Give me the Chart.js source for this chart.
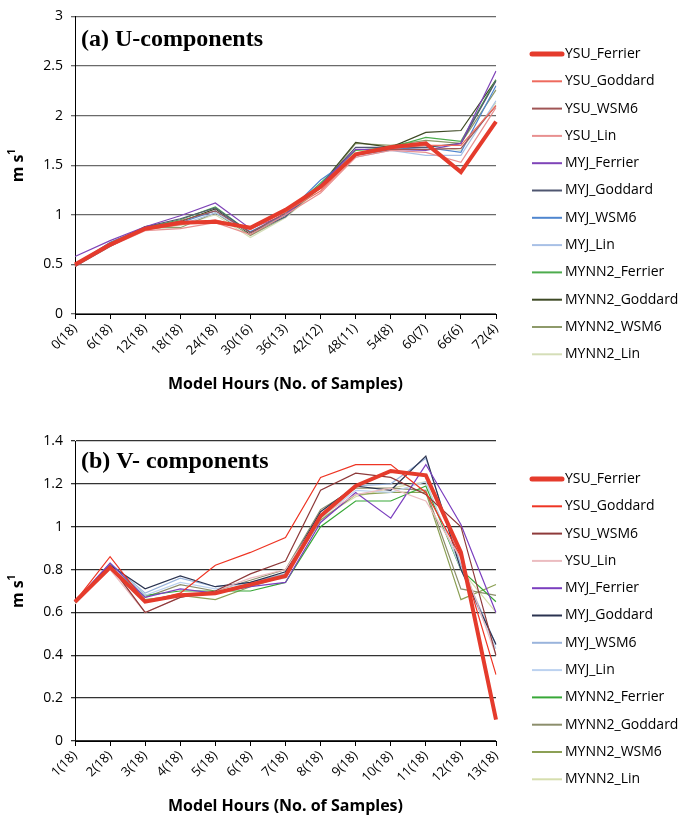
<!DOCTYPE html>
<html>
<head>
<meta charset="utf-8">
<script src="https://cdn.jsdelivr.net/npm/chart.js@4.4.1/dist/chart.umd.min.js"></script>
<style>
  body { margin: 0; background: #fff; }
  .box { position: relative; width: 686px; height: 413px; }
</style>
</head>
<body>
<div class="box"><canvas id="uChart" width="686" height="413"></canvas></div>
<div class="box"><canvas id="vChart" width="686" height="413"></canvas></div>
<script>
// categories
var uLabels = ['0(18)', '6(18)', '12(18)', '18(18)', '24(18)', '30(16)', '36(13)', '42(12)', '48(11)', '54(8)', '60(7)', '66(6)', '72(4)'];
var vLabels = ['1(18)', '2(18)', '3(18)', '4(18)', '5(18)', '6(18)', '7(18)', '8(18)', '9(18)', '10(18)', '11(18)', '12(18)', '13(18)'];
var seriesNames = ['YSU_Ferrier', 'YSU_Goddard', 'YSU_WSM6', 'YSU_Lin', 'MYJ_Ferrier', 'MYJ_Goddard', 'MYJ_WSM6', 'MYJ_Lin', 'MYNN2_Ferrier', 'MYNN2_Goddard', 'MYNN2_WSM6', 'MYNN2_Lin'];

// (a) U-components
var uYSU_Ferrier   = [0.50, 0.70, 0.86, 0.92, 0.93, 0.87, 1.05, 1.28, 1.61, 1.68, 1.72, 1.43, 1.94];
var uYSU_Goddard   = [0.49, 0.70, 0.85, 0.90, 0.95, 0.85, 1.03, 1.24, 1.60, 1.67, 1.70, 1.70, 2.10];
var uYSU_WSM6      = [0.48, 0.68, 0.86, 0.94, 1.04, 0.82, 1.02, 1.27, 1.60, 1.66, 1.66, 1.67, 2.10];
var uYSU_Lin       = [0.48, 0.68, 0.84, 0.86, 0.92, 0.80, 1.00, 1.22, 1.58, 1.65, 1.63, 1.53, 2.08];
var uMYJ_Ferrier   = [0.58, 0.74, 0.88, 0.99, 1.12, 0.86, 1.00, 1.30, 1.66, 1.66, 1.65, 1.72, 2.45];
var uMYJ_Goddard   = [0.48, 0.70, 0.88, 0.96, 1.07, 0.82, 0.98, 1.30, 1.68, 1.68, 1.68, 1.72, 2.35];
var uMYJ_WSM6      = [0.50, 0.72, 0.87, 0.92, 1.04, 0.83, 1.00, 1.35, 1.60, 1.66, 1.68, 1.63, 2.30];
var uMYJ_Lin       = [0.50, 0.70, 0.86, 0.90, 1.02, 0.82, 0.98, 1.30, 1.58, 1.65, 1.60, 1.60, 2.15];
var uMYNN2_Ferrier = [0.49, 0.72, 0.87, 0.95, 1.08, 0.82, 1.00, 1.32, 1.65, 1.68, 1.78, 1.74, 2.36];
var uMYNN2_Goddard = [0.48, 0.70, 0.88, 0.93, 1.06, 0.80, 1.00, 1.30, 1.73, 1.68, 1.83, 1.85, 2.36];
var uMYNN2_WSM6    = [0.49, 0.70, 0.87, 0.87, 1.02, 0.79, 0.98, 1.28, 1.72, 1.70, 1.75, 1.72, 2.26];
var uMYNN2_Lin     = [0.49, 0.70, 0.85, 0.89, 1.00, 0.77, 0.97, 1.27, 1.65, 1.66, 1.70, 1.65, 2.13];

// (b) V-components
var vYSU_Ferrier   = [0.65, 0.81, 0.65, 0.68, 0.69, 0.73, 0.77, 1.05, 1.19, 1.26, 1.24, 0.88, 0.10];
var vYSU_Goddard   = [0.65, 0.86, 0.65, 0.69, 0.82, 0.88, 0.95, 1.23, 1.29, 1.29, 1.16, 0.86, 0.31];
var vYSU_WSM6      = [0.65, 0.82, 0.60, 0.67, 0.70, 0.78, 0.84, 1.17, 1.25, 1.23, 1.15, 1.00, 0.40];
var vYSU_Lin       = [0.64, 0.80, 0.60, 0.67, 0.70, 0.76, 0.80, 1.05, 1.15, 1.18, 1.12, 0.85, 0.40];
var vMYJ_Ferrier   = [0.65, 0.83, 0.67, 0.71, 0.69, 0.72, 0.74, 1.02, 1.16, 1.04, 1.29, 1.01, 0.60];
var vMYJ_Goddard   = [0.65, 0.82, 0.71, 0.77, 0.72, 0.74, 0.79, 1.07, 1.19, 1.17, 1.33, 0.80, 0.45];
var vMYJ_WSM6      = [0.65, 0.83, 0.69, 0.76, 0.72, 0.74, 0.78, 1.05, 1.19, 1.20, 1.32, 0.82, 0.45];
var vMYJ_Lin       = [0.65, 0.82, 0.68, 0.74, 0.71, 0.74, 0.76, 1.04, 1.17, 1.16, 1.21, 0.80, 0.43];
var vMYNN2_Ferrier = [0.65, 0.82, 0.68, 0.70, 0.70, 0.70, 0.74, 1.00, 1.12, 1.12, 1.19, 0.80, 0.65];
var vMYNN2_Goddard = [0.65, 0.82, 0.67, 0.73, 0.70, 0.75, 0.80, 1.08, 1.18, 1.18, 1.17, 0.71, 0.68];
var vMYNN2_WSM6    = [0.65, 0.82, 0.66, 0.68, 0.66, 0.72, 0.77, 1.03, 1.15, 1.16, 1.16, 0.66, 0.73];
var vMYNN2_Lin     = [0.64, 0.81, 0.66, 0.68, 0.69, 0.74, 0.78, 1.04, 1.14, 1.18, 1.21, 0.80, 0.60];

var uColors = ['#e53b2c', '#ee6a5e', '#a05555', '#e89090', '#7f44b8', '#4f5670', '#4f86cf', '#a8c0e6', '#4dac4d', '#3e4a25', '#8e9a6a', '#d5deb8'];
var vColors = ['#e53b2c', '#ee3524', '#8e3a3a', '#ebbcc0', '#7b3fbf', '#2a3350', '#9ab4dc', '#bcd2f0', '#38a838', '#8c8e6c', '#8ca055', '#d6deae'];

var uValues = [uYSU_Ferrier, uYSU_Goddard, uYSU_WSM6, uYSU_Lin, uMYJ_Ferrier, uMYJ_Goddard, uMYJ_WSM6, uMYJ_Lin, uMYNN2_Ferrier, uMYNN2_Goddard, uMYNN2_WSM6, uMYNN2_Lin];
var vValues = [vYSU_Ferrier, vYSU_Goddard, vYSU_WSM6, vYSU_Lin, vMYJ_Ferrier, vMYJ_Goddard, vMYJ_WSM6, vMYJ_Lin, vMYNN2_Ferrier, vMYNN2_Goddard, vMYNN2_WSM6, vMYNN2_Lin];

var sansFont = '"Open Sans", sans-serif';

function makeDatasets(values, colors) {
    // draw the thick YSU_Ferrier line last so it sits on top
    return values.map(function (v, i) {
        return {
            label: seriesNames[i],
            data: v,
            borderColor: colors[i],
            backgroundColor: colors[i],
            borderWidth: i === 0 ? 4 : 1.2,
            pointRadius: 0,
            tension: 0,
            order: i === 0 ? 0 : 1
        };
    });
}

// panel title, y-axis title with superscript, and the legend on the right
var overlay = {
    id: 'overlay',
    afterDraw: function (chart, args, opts) {
        var ctx = chart.ctx;
        var area = chart.chartArea;
        ctx.save();
        ctx.fillStyle = '#000';
        ctx.font = 'bold 24px "Liberation Serif", serif';
        ctx.textAlign = 'left';
        ctx.textBaseline = 'alphabetic';
        ctx.fillText(opts.title, 81, opts.titleY);

        // y title "m s1"
        ctx.save();
        ctx.translate(18, (area.top + area.bottom) / 2);
        ctx.rotate(-Math.PI / 2);
        ctx.font = 'bold 16px ' + sansFont;
        var w = ctx.measureText('m s').width;
        ctx.font = 'bold 11px ' + sansFont;
        var w2 = ctx.measureText('1').width;
        var x0 = -(w + w2) / 2;
        ctx.textBaseline = 'middle';
        ctx.font = 'bold 16px ' + sansFont;
        ctx.fillText('m s', x0, 0);
        ctx.font = 'bold 11px ' + sansFont;
        ctx.fillText('1', x0 + w - 0.5, -6);
        ctx.restore();

        // legend
        ctx.font = '14px ' + sansFont;
        ctx.textBaseline = 'middle';
        chart.data.datasets.forEach(function (ds, i) {
            var y = opts.legendY + i * 27.3;
            ctx.strokeStyle = ds.borderColor;
            ctx.lineWidth = i === 0 ? 5 : 2;
            ctx.lineCap = i === 0 ? 'round' : 'butt';
            ctx.beginPath();
            ctx.moveTo(532, y);
            ctx.lineTo(562, y);
            ctx.stroke();
            ctx.fillStyle = '#000';
            ctx.fillText(ds.label, 565, y);
        });
        ctx.restore();
    }
};

function makeChart(id, labels, datasets, yMax, yStep, gridColor, top, xHeight, titlePad, title, titleY, legendY) {
    return new Chart(document.getElementById(id), {
        type: 'line',
        data: { labels: labels, datasets: datasets },
        plugins: [overlay],
        options: {
            responsive: false,
            animation: false,
            layout: { padding: { left: 0, right: 190, top: top, bottom: 0 } },
            plugins: {
                legend: { display: false },
                tooltip: { enabled: false },
                overlay: { title: title, titleY: titleY, legendY: legendY }
            },
            scales: {
                x: {
                    offset: false,
                    afterFit: function (s) { s.height = xHeight; },
                    border: { color: '#000', width: 1 },
                    grid: { drawOnChartArea: false, drawTicks: true, tickLength: 5, color: '#000' },
                    ticks: {
                        autoSkip: false,
                        maxRotation: 45,
                        minRotation: 45,
                        padding: 2,
                        color: '#000',
                        font: { family: sansFont, size: 13 }
                    },
                    title: {
                        display: true,
                        text: 'Model Hours (No. of Samples)',
                        color: '#000',
                        font: { family: sansFont, size: 16, weight: 'bold', lineHeight: 1.2 },
                        padding: { top: 0, bottom: titlePad }
                    }
                },
                y: {
                    min: 0,
                    max: yMax,
                    afterFit: function (s) { s.width = 75; },
                    border: { color: '#000', width: 1 },
                    grid: { color: gridColor, lineWidth: 1.3, tickLength: 4 },
                    ticks: {
                        stepSize: yStep,
                        padding: 8,
                        color: '#000',
                        font: { family: sansFont, size: 14 },
                        callback: function (v) { return String(+v.toFixed(2)); }
                    }
                }
            }
        }
    });
}

makeChart('uChart', uLabels, makeDatasets(uValues, uColors), 3, 0.5, '#6a6a6a', 15, 99, 19, '(a) U-components', 46, 54);
makeChart('vChart', vLabels, makeDatasets(vValues, vColors), 1.4, 0.2, '#333', 28, 85, 10, '(b) V- components', 55, 66);
</script>
</body>
</html>
